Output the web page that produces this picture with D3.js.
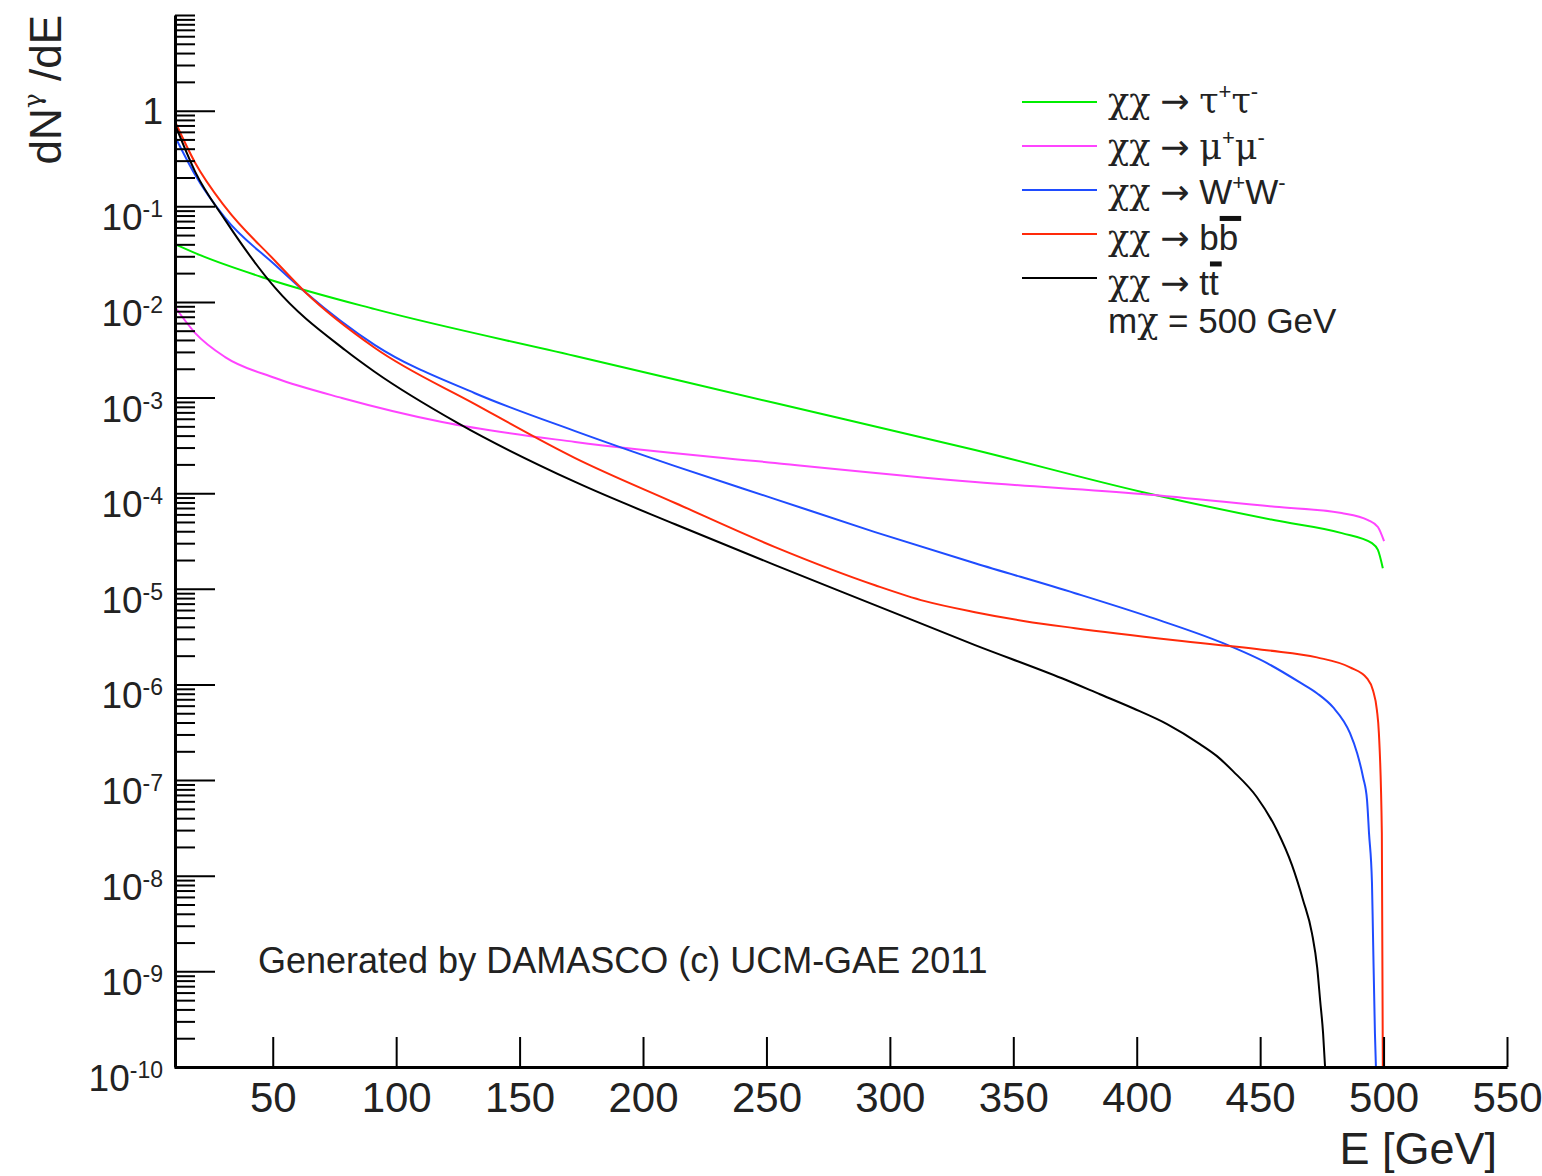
<!DOCTYPE html>
<html>
<head>
<meta charset="utf-8">
<script src="https://cdn.jsdelivr.net/npm/d3@7"></script>
<style>
  html, body { margin: 0; padding: 0; background: #fff; }
  svg { display: block; font-family: "Liberation Sans", Arial, Helvetica, sans-serif; }
  .greek { font-family: "DejaVu Serif", serif; }
  .arrow { font-family: "DejaVu Sans", sans-serif; }
</style>
</head>
<body>
<svg id="chart" width="1542" height="1176"></svg>
<script>
// Gamma-ray spectra dN/dE for dark matter annihilation, m_chi = 500 GeV

// chi chi -> tau+ tau-
const energyTau = [10.5, 20.6, 47, 91.4, 172.5, 253.5, 334.5, 402.1, 456, 483.1, 495.3, 497.7, 499.7];
const dndeTau   = [4.0e-2, 3.08e-2, 1.77e-2, 8.4e-3, 2.72e-3, 8.75e-4, 2.83e-4, 1.03e-4, 5.2e-5, 3.82e-5, 3.0e-5, 2.55e-5, 1.64e-5];

// chi chi -> mu+ mu-
const energyMu = [10.5, 18.6, 30.7, 51, 78, 118.6, 172.5, 253.5, 334.5, 402.1, 456, 483, 493.7, 497.7, 500.2];
const dndeMu   = [8.8e-3, 4.72e-3, 2.65e-3, 1.6e-3, 9.9e-4, 5.55e-4, 3.43e-4, 2.07e-4, 1.31e-4, 9.79e-5, 7.2e-5, 6.2e-5, 5.24e-5, 4.43e-5, 3.15e-5];

// chi chi -> W+ W-
const energyW = [10.5, 18.6, 30.7, 51, 63.1, 91.4, 131.9, 172.5, 213, 253.5, 294, 334.5, 375, 405.4, 435, 452.8, 466.1, 473, 479.5, 486.4, 489.3, 491.7, 493.3, 494.1, 495.3, 495.7, 496.5, 496.9];
const dndeW   = [0.531, 0.212, 7.55e-2, 2.43e-2, 1.27e-2, 3.54e-3, 1.11e-3, 4.46e-4, 1.92e-4, 8.67e-5, 3.92e-5, 1.85e-5, 9.0e-6, 5.06e-6, 2.7e-6, 1.67e-6, 1.05e-6, 8.1e-7, 5.78e-7, 3.09e-7, 1.91e-7, 1.07e-7, 6.17e-8, 2.79e-8, 8.4e-9, 2.5e-9, 2.25e-10, 1e-10];

// chi chi -> b bbar
const energyB = [10.5, 18.6, 30.7, 51, 63.1, 91.4, 131.9, 172.5, 213, 253.5, 294, 314.2, 334.5, 354.7, 375, 415.5, 452.7, 473, 486.4, 493.3, 495.7, 497.3, 498.1, 499.3, 499.7];
const dndeB   = [0.76, 0.284, 9.84e-2, 2.68e-2, 1.27e-2, 3.3e-3, 8.55e-4, 2.33e-4, 7.9e-5, 2.73e-5, 1.09e-5, 7.43e-6, 5.7e-6, 4.59e-6, 3.88e-6, 2.9e-6, 2.28e-6, 1.92e-6, 1.51e-6, 1.16e-6, 8.7e-7, 5.4e-7, 3.1e-7, 2.8e-8, 1e-10];

// chi chi -> t tbar
const energyT = [10.5, 18.6, 30.7, 51, 79.3, 91.4, 125, 172.5, 213, 253.5, 294, 334.5, 369.7, 385.1, 398.5, 412.3, 425.6, 432.5, 439, 448.7, 456.8, 462.9, 467.4, 471, 473.1, 474.3, 475.5, 476.3];
const dndeT   = [0.708, 0.229, 7.2e-2, 1.4e-2, 3.14e-3, 1.85e-3, 5.4e-4, 1.31e-4, 4.73e-5, 1.77e-5, 6.76e-6, 2.58e-6, 1.16e-6, 7.9e-7, 5.64e-7, 3.85e-7, 2.38e-7, 1.78e-7, 1.24e-7, 6.62e-8, 2.99e-8, 1.29e-8, 5.55e-9, 2.5e-9, 1.1e-9, 4.99e-10, 2.25e-10, 1e-10];

// axis ticks
const xTickValues = [50, 100, 150, 200, 250, 300, 350, 400, 450, 500, 550];
const yMajorExponents = [-10, -9, -8, -7, -6, -5, -4, -3, -2, -1, 0];

// legend entries: text pieces; "g" = greek glyph, "arrow", "sup" = superscript, "bar" = overlined
const legendEntries = [
  { color: "#00ee00", parts: [{ t: "\u03c7\u03c7", g: true }, { t: " " }, { t: "\u2192", arrow: true }, { t: " " }, { t: "\u03c4", g: true }, { t: "+", sup: true }, { t: "\u03c4", g: true }, { t: "-", sup: true }] },
  { color: "#ff44ff", parts: [{ t: "\u03c7\u03c7", g: true }, { t: " " }, { t: "\u2192", arrow: true }, { t: " " }, { t: "\u03bc", g: true }, { t: "+", sup: true }, { t: "\u03bc", g: true }, { t: "-", sup: true }] },
  { color: "#1f4cff", parts: [{ t: "\u03c7\u03c7", g: true }, { t: " " }, { t: "\u2192", arrow: true }, { t: " " }, { t: "W" }, { t: "+", sup: true }, { t: "W" }, { t: "-", sup: true }] },
  { color: "#ff2a0a", parts: [{ t: "\u03c7\u03c7", g: true }, { t: " " }, { t: "\u2192", arrow: true }, { t: " " }, { t: "b" }, { t: "b", bar: true }] },
  { color: "#000000", parts: [{ t: "\u03c7\u03c7", g: true }, { t: " " }, { t: "\u2192", arrow: true }, { t: " " }, { t: "t" }, { t: "t", bar: true }] }
];
const massParts = [{ t: "m" }, { t: "\u03c7", g: true }, { t: " = 500 GeV" }];
const creditLabel = "Generated by DAMASCO (c) UCM-GAE 2011";

const series = [
  { e: energyTau, v: dndeTau, color: legendEntries[0].color },
  { e: energyMu,  v: dndeMu,  color: legendEntries[1].color },
  { e: energyW,   v: dndeW,   color: legendEntries[2].color },
  { e: energyB,   v: dndeB,   color: legendEntries[3].color },
  { e: energyT,   v: dndeT,   color: legendEntries[4].color }
];

const svg = d3.select("#chart");
const frameLeft = 175, frameRight = 1507, frameTop = 15, frameBottom = 1067;

const x = d3.scaleLinear().domain([10, 550]).range([174, frameRight]);
const y = d3.scaleLog().domain([1e-10, 10]).range([frameBottom, frameTop]);

// clip curves to the frame
svg.append("defs").append("clipPath").attr("id", "plotArea")
  .append("rect").attr("x", frameLeft).attr("y", frameTop)
  .attr("width", frameRight - frameLeft).attr("height", frameBottom - frameTop);

const line = d3.line()
  .x(d => x(d[0]))
  .y(d => y(d[1]))
  .curve(d3.curveMonotoneX);

const curves = svg.append("g").attr("clip-path", "url(#plotArea)");
series.forEach(s => {
  curves.append("path")
    .datum(s.e.map((e, i) => [e, s.v[i]]))
    .attr("fill", "none")
    .attr("stroke", s.color)
    .attr("stroke-width", 2)
    .attr("stroke-linejoin", "round")
    .attr("d", line);
});

// y axis: major and minor ticks pointing into the frame
const majorVals = yMajorExponents.map(k => Math.pow(10, k));
const minorVals = [];
for (let k = -10; k <= 0; k++) {
  for (let m = 2; m <= 10; m++) {
    if (m === 10 && k < 0) continue;
    minorVals.push(m * Math.pow(10, k));
  }
}

const yAxisG = svg.append("g").attr("transform", `translate(${frameLeft},0)`);
yAxisG.call(d3.axisRight(y).tickValues(majorVals).tickSize(40).tickSizeOuter(0).tickFormat(""));
yAxisG.select(".domain").attr("stroke-width", 3);
yAxisG.selectAll(".tick line").attr("stroke-width", 2);

const yMinorG = svg.append("g").attr("transform", `translate(${frameLeft},0)`);
yMinorG.call(d3.axisRight(y).tickValues(minorVals).tickSize(20).tickSizeOuter(0).tickFormat(""));
yMinorG.select(".domain").remove();
yMinorG.selectAll(".tick line").attr("stroke-width", 2);

// y tick labels with exponents
const yLabels = svg.append("g").attr("font-size", 37).attr("fill", "#222");
yMajorExponents.forEach(k => {
  const t = yLabels.append("text")
    .attr("x", 163)
    .attr("y", y(Math.pow(10, k)) + (k === 0 ? 13 : 24))
    .attr("text-anchor", "end");
  if (k === 0) {
    t.text("1");
  } else {
    t.append("tspan").text("10");
    t.append("tspan").attr("dy", -13).attr("font-size", 23).text(String(k));
  }
});

// x axis
const xAxisG = svg.append("g").attr("transform", `translate(0,${frameBottom})`);
xAxisG.call(d3.axisBottom(x).tickValues(xTickValues).tickSizeInner(-30).tickSizeOuter(0).tickPadding(15));
xAxisG.attr("font-size", 42).attr("font-family", null);
xAxisG.select(".domain").attr("stroke-width", 3);
xAxisG.selectAll(".tick line").attr("stroke-width", 2);
xAxisG.selectAll(".tick text").attr("fill", "#222");

// axis titles
svg.append("text")
  .attr("x", 1497).attr("y", 1164)
  .attr("text-anchor", "end")
  .attr("font-size", 45)
  .attr("fill", "#222")
  .text("E [GeV]");

const yTitle = svg.append("text")
  .attr("transform", "translate(61,15) rotate(-90)")
  .attr("text-anchor", "end")
  .attr("font-size", 44)
  .attr("fill", "#222");
yTitle.append("tspan").text("dN");
yTitle.append("tspan").attr("dy", -20).attr("font-size", 25).attr("class", "greek").text("\u03b3");
yTitle.append("tspan").attr("dy", 20).attr("font-size", 44).text(" /dE");

// writes a list of text pieces into a <text>, returns character ranges that need an overbar
function writeParts(txt, parts) {
  let charIndex = 0;
  const bars = [];
  parts.forEach((p, j) => {
    const ts = txt.append("tspan").text(p.t);
    if (p.g) ts.attr("class", "greek");
    if (p.arrow) ts.attr("class", "arrow");
    if (p.sup) {
      ts.attr("dy", -14).attr("font-size", 22);
    } else if (j > 0 && parts[j - 1].sup) {
      ts.attr("dy", 14);
    }
    if (p.bar) bars.push({ start: charIndex, len: p.t.length });
    charIndex += p.t.length;
  });
  return bars;
}

// legend
const legend = svg.append("g").attr("font-size", 35).attr("fill", "#222");
legendEntries.forEach((entry, i) => {
  const ly = 102 + 44 * i;
  const baseY = 113 + 45.5 * i;
  legend.append("line")
    .attr("x1", 1022).attr("x2", 1097)
    .attr("y1", ly).attr("y2", ly)
    .attr("stroke", entry.color).attr("stroke-width", 2);
  const txt = legend.append("text").attr("x", 1108).attr("y", baseY);
  const bars = writeParts(txt, entry.parts);
  const node = txt.node();
  bars.forEach(b => {
    const x0 = node.getStartPositionOfChar(b.start).x;
    const x1 = node.getEndPositionOfChar(b.start + b.len - 1).x;
    legend.append("rect")
      .attr("x", x0 + 1).attr("width", x1 - x0 + 2)
      .attr("y", baseY - 35 * 0.73 - 8).attr("height", 5)
      .attr("fill", "#111");
  });
});
writeParts(legend.append("text").attr("x", 1108).attr("y", 333), massParts);

// credit
svg.append("text")
  .attr("x", 258).attr("y", 973)
  .attr("font-size", 36)
  .attr("fill", "#222")
  .text(creditLabel);
</script>
</body>
</html>
